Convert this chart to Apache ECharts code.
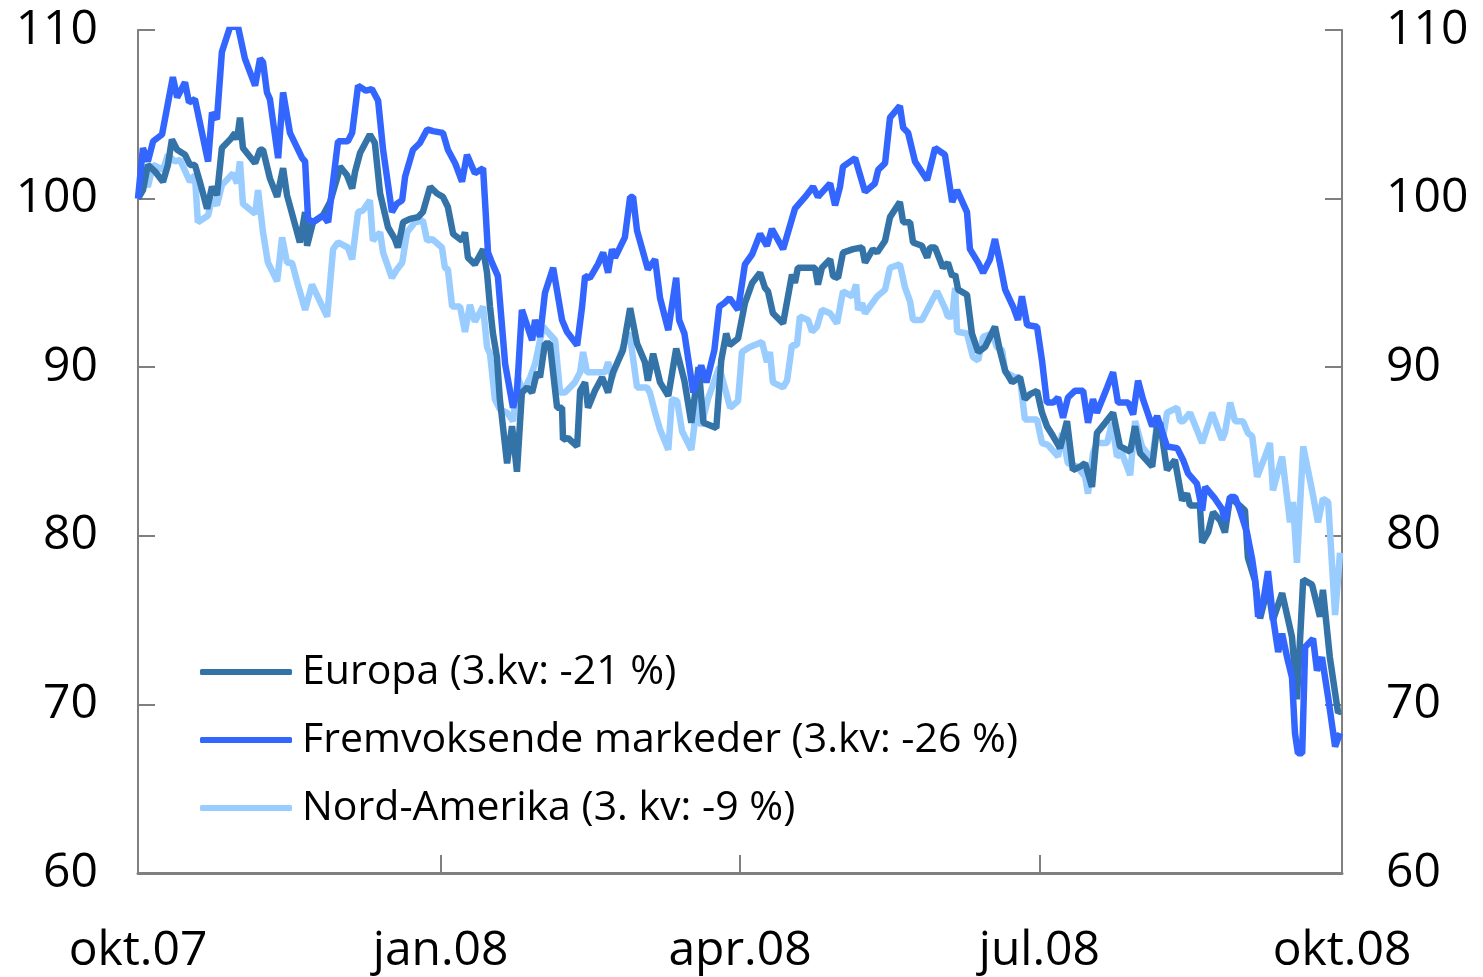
<!DOCTYPE html>
<html>
<head>
<meta charset="utf-8">
<script src="https://cdn.jsdelivr.net/npm/echarts@6/dist/echarts.min.js"></script>
<style>
html,body{margin:0;padding:0;background:#fff;}
#chart{width:1483px;height:977px;}
</style>
</head>
<body>
<div id="chart"></div>
<script>
// x = days since 1 Oct 2007, y = index (start = 100)
var tickDays = [0, 92, 183, 274, 366];
var tickLabels = ['okt.07', 'jan.08', 'apr.08', 'jul.08', 'okt.08'];
var yTicks = [60, 70, 80, 90, 100, 110];
var seriesNames = ['Europa (3.kv: -21 %)', 'Fremvoksende markeder (3.kv: -26 %)', 'Nord-Amerika (3. kv: -9 %)'];

var europa = [[0,100],[1.5,100.5],[3.0,102.0],[5.2,101.6],[7.6,101.0],[9.1,102.0],[10.3,103.5],[11.9,102.9],[14.3,102.6],[15.8,102.0],[17.3,102.0],[18.8,101.0],[21.0,99.4],[22.5,100.7],[24.0,100.2],[25.5,103.0],[28.0,103.5],[29.5,103.9],[30.1,103.5],[31.0,104.8],[31.9,103.0],[35.6,102.1],[37.1,102.9],[38.0,102.9],[40.1,101.2],[42.3,100.1],[44.1,101.8],[45.3,100.2],[49.2,97.4],[50.8,99.2],[51.4,97.2],[53.2,98.6],[56.2,99.0],[58.4,99.8],[60.8,101.4],[61.4,101.9],[63.5,101.4],[65.1,100.6],[66.0,101.6],[67.5,102.7],[70.5,103.8],[72.0,103.3],[73.6,100.3],[76.0,98.3],[78.1,97.6],[79.0,97.1],[80.6,98.6],[82.7,98.8],[85.1,98.9],[86.6,99.2],[88.8,100.7],[90.9,100.3],[92.7,100.1],[94.2,99.5],[95.8,97.9],[98.5,97.5],[99.4,98.0],[100.3,96.5],[102.4,96.1],[104.9,97.0],[106.1,95.6],[107.0,93.6],[107.9,92.0],[109.1,90.6],[110.0,88.1],[112.2,84.3],[113.7,86.5],[115.2,83.8],[116.7,88.5],[118.3,88.8],[119.8,88.5],[121.3,89.7],[122.2,89.4],[123.7,91.4],[125.2,91.4],[127.4,87.6],[128.9,87.6],[129.2,85.7],[130.7,85.8],[133.5,85.3],[134.4,88.6],[135.9,89.1],[136.8,87.6],[138.9,88.6],[141.1,89.4],[142.9,88.5],[144.4,89.7],[147.4,91.0],[149.6,93.5],[151.7,91.4],[154.1,90.3],[155.0,89.2],[156.6,90.8],[158.7,89.1],[161.2,88.3],[163.6,91.1],[166.1,89.2],[168.2,86.7],[170.4,90.0],[171.9,86.7],[175.8,86.4],[177.3,90.4],[178.8,92.0],[179.8,91.3],[182.4,91.7],[184.5,93.8],[186.7,95.0],[189.1,95.6],[190.6,94.7],[191.5,94.5],[193.0,93.2],[196.1,92.6],[198.8,95.5],[199.7,95.0],[200.6,95.9],[205.8,95.9],[206.7,94.9],[207.9,95.9],[210.4,96.4],[211.3,95.4],[212.8,95.3],[214.3,96.8],[217.4,97.0],[220.1,97.1],[221.0,96.2],[223.4,97.0],[224.7,96.8],[227.1,97.5],[228.6,98.9],[231.6,99.8],[232.6,98.6],[234.7,98.6],[235.6,97.4],[238.3,97.2],[239.9,96.5],[240.8,97.1],[242.3,97.1],[244.7,95.9],[246.2,96.2],[247.5,95.4],[248.4,95.5],[249.3,94.6],[252.0,94.3],[253.5,92.0],[255.4,90.9],[257.5,91.2],[260.5,92.4],[262.0,91.0],[263.6,89.8],[265.7,89.1],[268.1,89.4],[269.6,88.1],[271.2,88.4],[273.3,88.6],[274.8,87.3],[276.3,86.5],[278.2,85.9],[280.3,85.2],[282.4,86.8],[284.2,83.9],[286.4,84.1],[287.9,84.3],[290.0,82.9],[291.5,86.1],[294.0,86.7],[296.4,87.3],[298.5,85.3],[301.6,85.0],[303.1,86.5],[304.6,84.9],[308.3,84.1],[309.8,86.5],[310.7,86.7],[312.8,83.9],[315.2,84.5],[317.4,82.1],[318.9,82.5],[319.8,81.8],[322.8,81.8],[323.5,79.6],[325.3,80.2],[326.8,81.4],[329.0,80.9],[330.4,80.2],[332.0,82.3],[336.5,81.5],[337.4,78.7],[339.6,77.3],[341.1,75.1],[343.5,77.0],[345.0,75.0],[347.8,76.6],[350.8,74.0],[352.3,70.3],[354.2,77.4],[356.9,77.1],[359.3,75.2],[360.2,76.8],[362.3,72.8],[364.8,69.5],[365.4,69.6]];

var fremvoksende = [[0,100],[1.5,103.0],[3.0,102.2],[4.6,103.4],[7.3,103.8],[10.6,107.2],[11.9,106.0],[14.3,106.9],[15.5,105.7],[17.3,105.9],[21.3,102.2],[22.5,105.1],[24.0,104.7],[25.5,108.7],[28.0,110.2],[30.4,110.2],[32.5,108.3],[35.6,106.7],[37.1,108.3],[38.0,108.1],[39.2,106.3],[40.1,105.9],[42.6,102.4],[44.1,106.3],[46.2,103.9],[49.9,102.4],[50.8,102.2],[51.7,98.8],[53.2,98.6],[56.2,99.0],[57.8,98.6],[59.3,101.0],[60.8,103.4],[63.8,103.4],[65.1,103.9],[66.9,106.7],[69.3,106.4],[71.1,106.5],[73.0,105.8],[74.5,102.9],[77.2,99.2],[78.7,99.7],[80.3,99.9],[81.2,101.3],[83.6,102.9],[85.7,103.3],[87.9,104.1],[89.7,104.0],[92.7,103.9],[94.2,102.9],[96.4,102.1],[98.5,101.0],[100.0,102.6],[102.4,101.5],[104.9,101.8],[106.4,96.8],[107.6,96.2],[109.4,95.4],[111.6,90.2],[114.0,87.6],[115.2,88.5],[116.7,93.4],[119.8,91.6],[120.7,92.8],[122.2,91.8],[123.7,94.4],[126.2,95.9],[128.9,92.8],[130.4,92.1],[133.5,91.3],[135.0,93.6],[135.9,95.4],[137.4,95.3],[139.8,96.1],[141.4,96.8],[142.9,95.6],[144.1,97.0],[145.0,96.5],[148.0,97.7],[149.6,100.1],[150.5,100.1],[151.7,98.1],[155.0,95.8],[157.2,96.4],[158.7,94.1],[161.2,92.2],[163.6,95.3],[164.5,92.8],[166.1,92.0],[168.8,88.5],[171.2,90.1],[172.8,89.1],[175.2,91.0],[176.7,93.6],[178.2,93.8],[179.8,94.1],[182.4,93.4],[184.5,96.1],[186.7,96.7],[189.1,97.9],[191.2,97.2],[192.7,98.2],[196.1,97.0],[199.7,99.4],[202.8,100.1],[205.2,100.7],[206.7,100.1],[210.4,100.9],[211.9,99.6],[213.4,100.7],[214.3,101.9],[218.0,102.4],[221.0,100.4],[224.0,100.9],[225.0,101.7],[227.1,102.1],[228.6,104.8],[231.6,105.5],[232.6,104.2],[234.1,103.9],[236.2,102.2],[239.9,101.1],[242.3,103.0],[245.3,102.6],[247.5,99.8],[249.0,100.5],[252.0,99.2],[252.9,97.0],[255.4,96.2],[256.9,95.6],[259.0,96.4],[260.5,97.6],[262.0,96.2],[263.6,94.6],[266.0,93.6],[267.5,92.8],[268.7,94.2],[270.3,92.5],[273.3,92.4],[274.8,90.4],[276.3,87.9],[278.2,87.9],[279.7,88.2],[281.2,87.0],[282.7,88.2],[284.8,88.6],[287.3,88.6],[288.8,86.7],[290.3,88.1],[291.5,87.3],[294.6,88.8],[296.4,89.7],[297.9,87.9],[301.0,87.9],[302.5,87.2],[304.0,89.2],[305.5,88.1],[308.3,86.5],[309.8,87.1],[312.8,85.3],[315.9,85.2],[317.7,84.5],[319.2,83.7],[321.9,83.1],[323.5,81.5],[324.4,82.9],[327.4,82.2],[329.5,81.6],[330.4,80.9],[332.0,82.3],[333.5,82.3],[335.0,81.5],[337.1,80.2],[338.7,78.6],[339.6,77.4],[340.5,75.2],[342.0,76.0],[343.5,77.9],[345.0,75.2],[346.6,73.1],[347.8,74.2],[349.3,72.8],[350.8,71.6],[351.7,68.3],[352.6,67.1],[353.9,67.1],[354.8,73.4],[357.2,73.9],[358.4,72.0],[359.9,72.8],[361.8,70.4],[363.9,67.5],[365.4,68.3]];

var nordAmerika = [[0,100],[1.2,101.3],[3.0,100.7],[4.6,102.0],[7.6,101.7],[9.1,102.6],[11.2,102.2],[12.8,102.3],[15.8,101.0],[17.3,101.4],[18.2,98.6],[21.3,99.0],[22.5,100.0],[24.0,99.6],[25.5,100.8],[28.9,101.5],[30.1,100.9],[31.0,102.2],[31.9,99.7],[35.6,99.1],[36.5,100.5],[38.0,98.0],[39.5,96.2],[42.3,95.1],[43.8,97.7],[45.3,96.2],[46.8,96.2],[48.6,94.9],[50.8,93.4],[52.9,94.9],[57.5,93.0],[59.3,97.0],[60.8,97.4],[63.8,97.1],[65.1,96.4],[66.9,99.2],[68.4,99.3],[70.5,99.9],[71.4,97.5],[73.6,98.0],[74.5,96.8],[77.2,95.3],[78.7,95.8],[80.3,96.2],[81.8,98.0],[84.2,98.6],[86.6,98.7],[87.9,97.5],[89.4,97.6],[92.4,97.1],[93.3,95.9],[94.2,95.8],[95.5,93.6],[97.9,93.6],[99.4,92.1],[100.9,93.7],[102.4,92.7],[104.9,93.6],[106.1,91.2],[107.0,90.8],[108.5,88.1],[110.0,87.5],[112.2,87.3],[114.0,86.8],[115.5,89.4],[117.0,88.5],[119.2,89.4],[120.7,90.2],[123.1,92.4],[126.8,91.6],[128.3,88.5],[129.8,88.5],[132.8,89.1],[134.4,89.7],[135.3,90.9],[136.5,89.7],[142.0,89.7],[142.9,90.3],[144.1,89.4],[147.1,91.0],[149.0,92.0],[149.6,91.8],[151.7,88.8],[154.7,88.8],[155.6,88.5],[157.2,87.3],[158.7,86.3],[161.2,85.1],[162.3,88.1],[163.9,88.0],[165.4,86.2],[168.2,85.1],[170.4,88.5],[171.2,86.5],[173.4,88.2],[176.7,90.0],[180.0,87.6],[182.4,88.0],[183.6,90.9],[186.0,91.2],[189.7,91.5],[191.2,90.3],[192.1,90.9],[193.0,89.1],[196.1,88.8],[197.3,89.2],[198.8,91.3],[200.3,91.3],[201.2,93.0],[203.7,92.8],[204.9,92.1],[206.4,92.4],[207.9,93.4],[210.4,93.2],[212.5,92.6],[214.3,94.5],[217.1,94.2],[218.3,94.9],[218.9,93.4],[220.1,93.8],[221.0,93.2],[224.7,94.2],[227.1,94.6],[228.6,95.9],[231.6,96.1],[233.2,94.7],[234.7,93.9],[235.6,92.8],[238.3,92.8],[239.9,93.4],[242.9,94.5],[245.3,93.5],[246.2,93.0],[247.5,93.0],[248.4,94.7],[249.0,92.1],[252.0,92.0],[253.8,90.6],[255.4,90.4],[256.9,91.8],[259.6,92.0],[261.1,91.2],[262.7,91.0],[263.6,89.7],[266.6,89.4],[268.1,89.4],[269.6,86.9],[273.3,86.9],[274.8,85.5],[276.6,85.4],[279.7,84.7],[280.9,86.1],[282.7,84.3],[285.5,84.1],[287.9,83.5],[288.8,82.5],[290.3,84.9],[291.5,85.5],[294.6,85.5],[296.1,86.7],[297.6,84.7],[299.1,84.9],[301.6,83.6],[303.1,86.8],[305.2,85.3],[308.3,84.5],[309.8,86.7],[311.6,85.8],[312.8,87.3],[315.9,87.6],[316.8,86.8],[317.7,86.8],[319.8,87.3],[323.5,85.5],[326.5,87.3],[329.5,85.7],[330.4,86.1],[332.0,87.9],[333.5,86.8],[335.9,86.8],[337.4,86.1],[338.7,85.9],[340.2,83.5],[342.6,84.7],[344.1,85.5],[345.0,82.7],[347.8,84.7],[350.2,80.8],[351.1,82.0],[352.3,78.4],[354.2,85.3],[356.9,82.7],[358.7,80.8],[360.2,82.2],[361.8,82.0],[363.9,75.3],[365.4,79.0]];

var colors = ['#3473A8', '#3366FF', '#99CCFF'];
var FONT = '"Open Sans", "Liberation Sans", Arial, sans-serif';

var chart = echarts.init(document.getElementById('chart'), null, {renderer: 'canvas'});

function yAxis(pos) {
  return {
    type: 'value', position: pos, min: 60, max: 110, interval: 10,
    axisLine: {show: true, lineStyle: {color: '#7f7f7f', width: 2}},
    axisTick: {show: true, inside: true, length: 17, lineStyle: {color: '#7f7f7f', width: 2}},
    axisLabel: {show: true, color: '#000', fontSize: 48, fontFamily: FONT, margin: pos === 'left' ? 40 : 44},
    splitLine: {show: false}
  };
}

chart.setOption({
  animation: false,
  backgroundColor: '#fff',
  grid: {left: 138, right: 141, top: 30, bottom: 104, containLabel: false},
  legend: {
    orient: 'vertical', left: 200, top: 649, padding: 0,
    itemWidth: 92, itemHeight: 6, itemGap: 22, icon: 'roundRect',
    textStyle: {fontSize: 41, fontFamily: FONT, color: '#000', lineHeight: 46, padding: [0, 0, 0, 5]},
    data: seriesNames
  },
  xAxis: {
    type: 'value', min: 0, max: 366,
    axisLine: {show: true, onZero: false, lineStyle: {color: '#7f7f7f', width: 3}},
    axisTick: {show: true, inside: true, length: 18, customValues: tickDays, lineStyle: {color: '#7f7f7f', width: 2}},
    axisLabel: {
      show: true, customValues: tickDays, color: '#000', fontSize: 48, fontFamily: FONT, margin: 54,
      formatter: function (v) { var i = tickDays.indexOf(v); return i >= 0 ? tickLabels[i] : ''; }
    },
    splitLine: {show: false}
  },
  yAxis: [yAxis('left'), yAxis('right')],
  series: [
    {name: seriesNames[0], type: 'line', data: europa, yAxisIndex: 0, symbol: 'none', z: 3,
     lineStyle: {color: colors[0], width: 6.5}, itemStyle: {color: colors[0]}},
    {name: seriesNames[1], type: 'line', data: fremvoksende, yAxisIndex: 0, symbol: 'none', z: 4,
     lineStyle: {color: colors[1], width: 6.5}, itemStyle: {color: colors[1]}},
    {name: seriesNames[2], type: 'line', data: nordAmerika, yAxisIndex: 0, symbol: 'none', z: 2,
     lineStyle: {color: colors[2], width: 6.5}, itemStyle: {color: colors[2]}}
  ]
});
</script>
</body>
</html>
